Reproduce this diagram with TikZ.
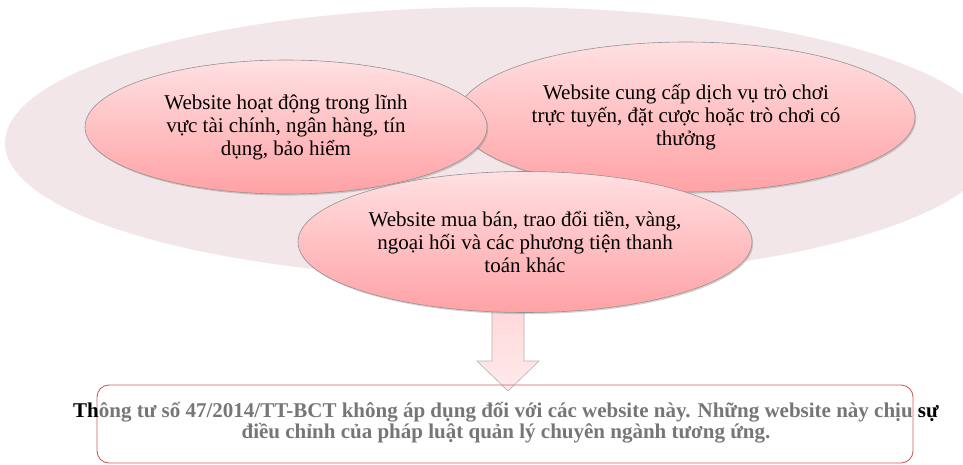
\documentclass[tikz,border=0pt]{standalone}
\usepackage{fontspec}
\setmainfont{Liberation Serif}
\usetikzlibrary{shapes.geometric,shadows}
\definecolor{bgpink}{RGB}{242,230,232}
\definecolor{ovaltop}{RGB}{255,224,226}
\definecolor{ovalbot}{RGB}{255,162,165}
\definecolor{arrowtop}{RGB}{255,214,217}
\definecolor{arrowbot}{RGB}{255,234,236}
\definecolor{boxred}{RGB}{204,96,94}
\definecolor{notegray}{RGB}{118,118,118}
\begin{document}
\begin{tikzpicture}[x=1pt,y=-1pt,
	oval/.style={ellipse,draw=gray!85,line width=0.6pt,top color=ovaltop,bottom color=ovalbot,inner sep=0pt,align=center,
		font=\fontsize{21}{23}\selectfont,drop shadow={shadow xshift=1.2pt,shadow yshift=-1.6pt,opacity=0.35}},
	notebox/.style={draw=boxred,line width=0.9pt,rounded corners=12pt,inner sep=0pt}]
	\useasboundingbox (0,0) rectangle (963,464);
	\node[ellipse,fill=bgpink,minimum width=990pt,minimum height=272pt,inner sep=0pt] (bg) at (500,143) {};
	\node[oval,minimum width=458pt,minimum height=150pt] (game) at (686,117) {Website cung cấp dịch vụ trò chơi\\trực tuyến, đặt cược hoặc trò chơi có\\thưởng};
	\node[oval,minimum width=402pt,minimum height=134pt] (fin) at (286,127) {Website hoạt động trong lĩnh\\vực tài chính, ngân hàng, tín\\dụng, bảo hiểm};
	% block arrow down to the note
	\draw[draw=gray!60,line width=0.6pt,top color=arrowtop,bottom color=arrowbot] (492,300)--(524,300)--(524,361)--(539,361)--(508,391)--(477,361)--(492,361)--cycle;
	\node[oval,minimum width=454pt,minimum height=141pt] (trade) at (525,242) {Website mua bán, trao đổi tiền, vàng,\\ngoại hối và các phương tiện thanh\\toán khác};
	\node[notebox,minimum width=816pt,minimum height=78pt] (note) at (505,424) {};
	\node[font=\bfseries\fontsize{21}{21}\selectfont,text=notegray,align=center] (notetxt) at (506,423)
		{\textcolor{black}{Th}ông tư số 47/2014/TT-BCT không áp dụng đối với các website này. Những website này chịu \textcolor{black}{sự}\\điều chỉnh của pháp luật quản lý chuyên ngành tương ứng.};
\end{tikzpicture}
\end{document}
